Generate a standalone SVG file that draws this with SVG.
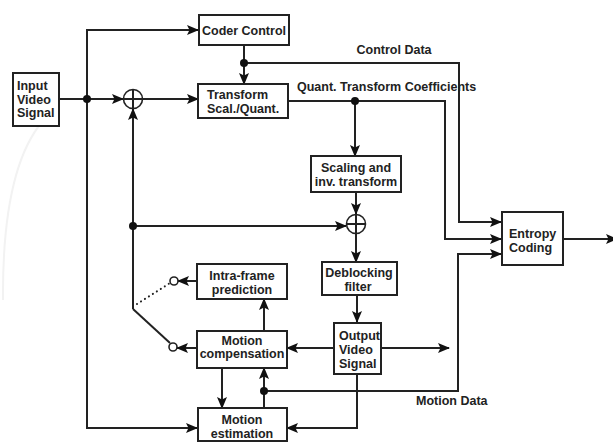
<svg xmlns="http://www.w3.org/2000/svg" width="613" height="442" viewBox="0 0 613 442">
<defs>
<style>
.box{fill:#fff;stroke:#222;stroke-width:2}
.ln{fill:none;stroke:#222;stroke-width:2}
.arr{marker-end:url(#ah)}
.dot{fill:#111}
.t{font-family:"Liberation Sans",Arial,sans-serif;font-weight:bold;font-size:12.5px;fill:#222}
.c{text-anchor:middle}
.sum{fill:#fff;stroke:#222;stroke-width:1.6}
.oc{fill:#fff;stroke:#222;stroke-width:1.6}
</style>
<marker id="ah" markerUnits="userSpaceOnUse" markerWidth="12" markerHeight="10" viewBox="0 0 12 10" refX="11" refY="5" orient="auto">
<path d="M0,0 L12,5 L0,10 L2.5,5 Z" fill="#111"/>
</marker>
</defs>
<rect width="613" height="442" fill="#fff"/>
<path d="M42,122 Q2,170 3,300" fill="none" stroke="#f2f2f2" stroke-width="2"/>

<g id="connectors">
<path class="ln arr" d="M59,99 H123"/>
<path class="ln arr" d="M87,99 V30 H198"/>
<path class="ln arr" d="M87,99 V428 H197"/>
<path class="ln arr" d="M142.5,99 H198"/>
<path class="ln arr" d="M244,45 V84"/>
<path class="ln arr" d="M244,63 H459 V222 H501"/>
<path class="ln arr" d="M288,101 H445 V239 H501"/>
<path class="ln arr" d="M355,101 V156"/>
<path class="ln arr" d="M356,192 V214"/>
<path class="ln arr" d="M133,226 H346"/>
<path class="ln arr" d="M133,309 V109"/>
<path class="ln" d="M133,309 L170,343"/>
<path class="ln" d="M137,304 L170,283" stroke-dasharray="0.1,4.6" stroke-linecap="round" stroke-width="2.2"/>
<path class="ln arr" d="M197,281 H178"/>
<path class="ln arr" d="M197,348 H177"/>
<path class="ln arr" d="M264,331 V299"/>
<path class="ln arr" d="M356,233.5 V262"/>
<path class="ln arr" d="M357,295 V322"/>
<path class="ln arr" d="M334,348 H287"/>
<path class="ln arr" d="M381,348 H449"/>
<path class="ln arr" d="M357,374 V428 H287"/>
<path class="ln arr" d="M264,408 V368"/>
<path class="ln arr" d="M264,391 H458 V254 H501"/>
<path class="ln arr" d="M222,368 V408"/>
<path class="ln arr" d="M563,239 H617"/>
<circle class="dot" cx="87" cy="99" r="4"/>
<circle class="dot" cx="244" cy="63" r="4"/>
<circle class="dot" cx="355" cy="101" r="4"/>
<circle class="dot" cx="133" cy="226" r="4"/>
<circle class="dot" cx="264" cy="391" r="4"/>
<circle class="oc" cx="174" cy="281" r="4"/>
<circle class="oc" cx="173" cy="347" r="4"/>
</g>

<g id="sum1">
<circle class="sum" cx="133" cy="99" r="9.5"/>
<path class="ln" stroke-width="1.6" d="M123.5,99 H142.5 M133,89.5 V108.5"/>
</g>
<g id="sum2">
<circle class="sum" cx="356" cy="224" r="9.5"/>
<path class="ln" stroke-width="1.6" d="M346.5,224 H365.5 M356,214.5 V233.5"/>
</g>

<g id="input">
<rect class="box" x="13" y="73" width="46" height="53"/>
<text class="t" x="17" y="90">Input</text>
<text class="t" x="17" y="103.5">Video</text>
<text class="t" x="17" y="117">Signal</text>
</g>
<g id="coder-control">
<rect class="box" x="199" y="15" width="90" height="30"/>
<text class="t c" x="244" y="34.5">Coder Control</text>
</g>
<g id="transform">
<rect class="box" x="198" y="84" width="90" height="34"/>
<text class="t" x="207" y="98.5">Transform</text>
<text class="t" x="207" y="112.5">Scal./Quant.</text>
</g>
<g id="scaling">
<rect class="box" x="311" y="156" width="90" height="36"/>
<text class="t c" x="356" y="171.5">Scaling and</text>
<text class="t c" x="356" y="186">inv. transform</text>
</g>
<g id="intra">
<rect class="box" x="197" y="264" width="90" height="35"/>
<text class="t c" x="242" y="279.5">Intra-frame</text>
<text class="t c" x="242" y="293.5">prediction</text>
</g>
<g id="deblocking">
<rect class="box" x="322" y="262" width="75" height="33"/>
<text class="t c" x="359" y="276.5">Deblocking</text>
<text class="t c" x="358" y="291">filter</text>
</g>
<g id="motion-comp">
<rect class="box" x="197" y="331" width="90" height="37"/>
<text class="t c" x="242" y="344.5">Motion</text>
<text class="t c" x="242" y="358">compensation</text>
</g>
<g id="output">
<rect class="box" x="334" y="323" width="47" height="51"/>
<text class="t" x="339" y="339.5">Output</text>
<text class="t" x="339" y="353.5">Video</text>
<text class="t" x="339" y="367.5">Signal</text>
</g>
<g id="motion-est">
<rect class="box" x="198" y="408" width="89" height="33"/>
<text class="t c" x="242" y="423.5">Motion</text>
<text class="t c" x="242" y="437.5">estimation</text>
</g>
<g id="entropy">
<rect class="box" x="502" y="212" width="61" height="53"/>
<text class="t" x="509" y="237.5">Entropy</text>
<text class="t" x="509" y="251.5">Coding</text>
</g>
<g id="labels">
<text class="t c" x="394" y="54">Control Data</text>
<text class="t" x="297" y="91">Quant. Transform Coefficients</text>
<text class="t" x="416" y="405">Motion Data</text>
</g>
</svg>
